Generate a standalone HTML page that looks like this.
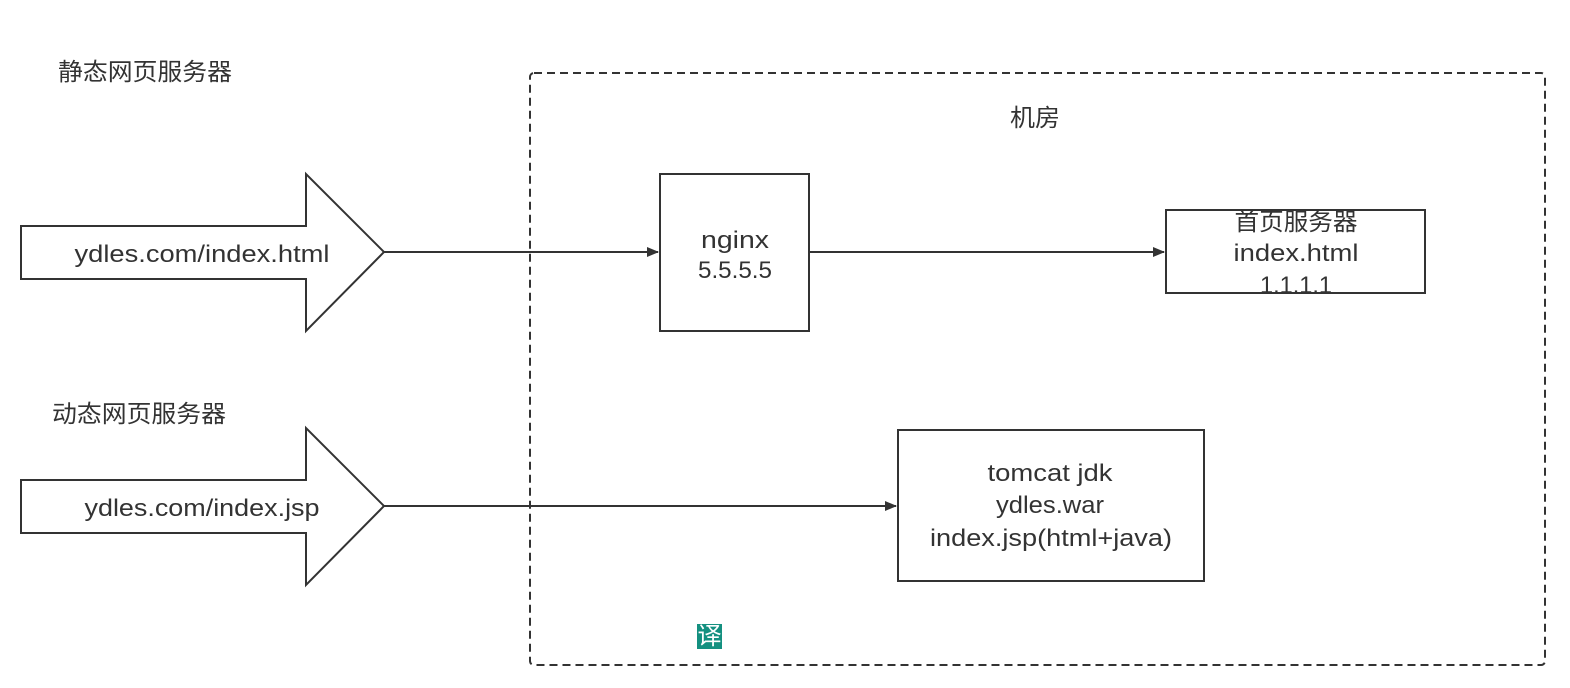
<!DOCTYPE html>
<html><head><meta charset="utf-8"><style>
html,body{margin:0;padding:0;background:#fff;}
svg{display:block;}
text{font-family:"Liberation Sans","Noto Sans CJK SC",sans-serif;fill:#333;font-size:24px;}
</style></head><body>
<svg width="1570" height="688" viewBox="0 0 1570 688">
<defs><marker id="a" markerWidth="12" markerHeight="10" refX="11" refY="5" orient="auto" markerUnits="userSpaceOnUse"><path d="M0,0 L12,5 L0,10 Z" fill="#333"/></marker></defs>
<rect x="530" y="73" width="1015" height="592" rx="4" fill="none" stroke="#333" stroke-width="2" stroke-dasharray="8,5"/>
<text x="1035" y="126" text-anchor="middle" font-size="23" textLength="50" lengthAdjust="spacingAndGlyphs">机房</text>
<text x="58" y="80" font-size="23" textLength="174" lengthAdjust="spacingAndGlyphs">静态网页服务器</text>
<text x="52" y="422" font-size="23" textLength="174" lengthAdjust="spacingAndGlyphs">动态网页服务器</text>
<polygon points="21,226 306,226 306,174 384,252 306,331 306,279 21,279" fill="#fff" stroke="#333" stroke-width="2"/>
<text x="202" y="262" text-anchor="middle" textLength="255" lengthAdjust="spacingAndGlyphs">ydles.com/index.html</text>
<polygon points="21,480 306,480 306,428 384,506 306,585 306,533 21,533" fill="#fff" stroke="#333" stroke-width="2"/>
<text x="202" y="516" text-anchor="middle" textLength="235" lengthAdjust="spacingAndGlyphs">ydles.com/index.jsp</text>
<line x1="384" y1="252" x2="658" y2="252" stroke="#333" stroke-width="2" marker-end="url(#a)"/>
<line x1="809" y1="252" x2="1164" y2="252" stroke="#333" stroke-width="2" marker-end="url(#a)"/>
<line x1="384" y1="506" x2="896" y2="506" stroke="#333" stroke-width="2" marker-end="url(#a)"/>
<rect x="660" y="174" width="149" height="157" fill="#fff" stroke="#333" stroke-width="2"/>
<text x="735" y="248" text-anchor="middle" textLength="68" lengthAdjust="spacingAndGlyphs">nginx</text>
<text x="735" y="278" text-anchor="middle" textLength="74" lengthAdjust="spacingAndGlyphs">5.5.5.5</text>
<rect x="1166" y="210" width="259" height="83" fill="#fff" stroke="#333" stroke-width="2"/>
<text x="1296" y="230" text-anchor="middle" textLength="123" lengthAdjust="spacingAndGlyphs">首页服务器</text>
<text x="1296" y="261" text-anchor="middle" textLength="125" lengthAdjust="spacingAndGlyphs">index.html</text>
<text x="1296" y="293" text-anchor="middle" textLength="72" lengthAdjust="spacingAndGlyphs">1.1.1.1</text>
<rect x="898" y="430" width="306" height="151" fill="#fff" stroke="#333" stroke-width="2"/>
<text x="1050" y="481" text-anchor="middle" textLength="125" lengthAdjust="spacingAndGlyphs">tomcat jdk</text>
<text x="1050" y="513" text-anchor="middle" textLength="108" lengthAdjust="spacingAndGlyphs">ydles.war</text>
<text x="1051" y="546" text-anchor="middle" textLength="242" lengthAdjust="spacingAndGlyphs">index.jsp(html+java)</text>
<rect x="697" y="624" width="25" height="25" fill="#149080"/>
<text x="709.5" y="644" text-anchor="middle" font-size="19" style="fill:#fff">译</text>
</svg>
</body></html>
